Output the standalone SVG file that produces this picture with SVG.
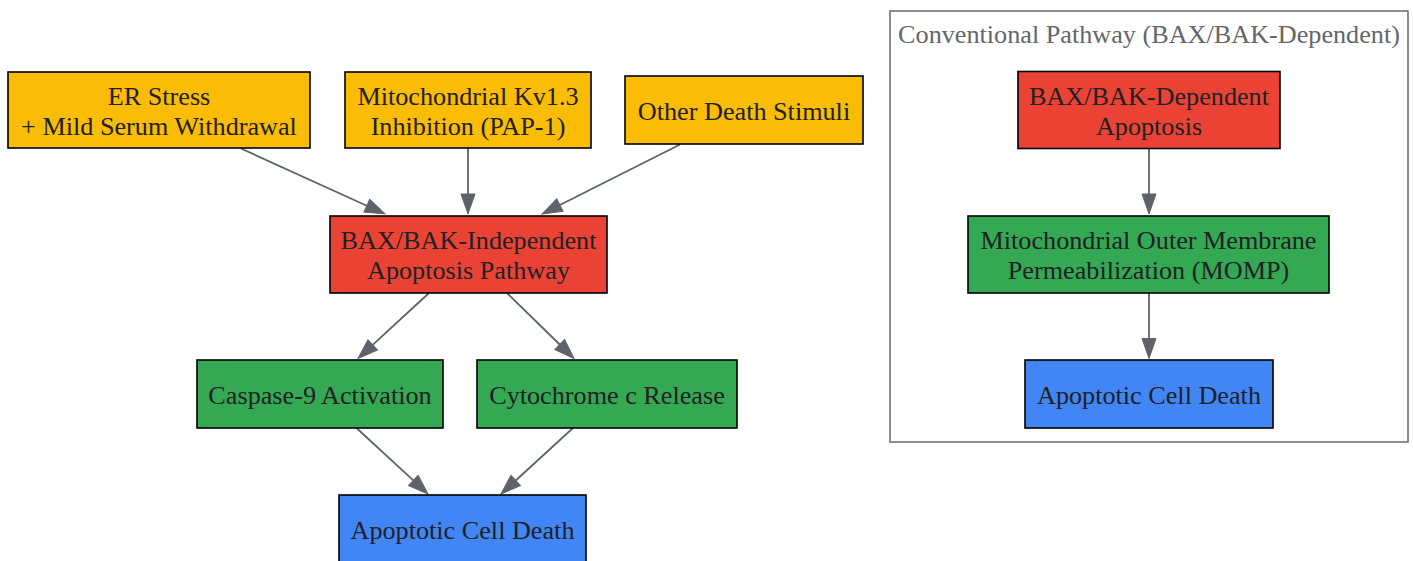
<svg xmlns="http://www.w3.org/2000/svg" width="1413" height="561" viewBox="0 0 1413 561">
<style>
.n{stroke:#000;stroke-width:1.6}
.y{fill:#FBBC05}.r{fill:#EA4335}.g{fill:#34A853}.b{fill:#4285F4}
text{font-family:"Liberation Serif","Times New Roman",serif;font-size:26.2px;fill:#202124;text-anchor:middle}
.cl{fill:#63666a}
.e{stroke:#5f6368;stroke-width:1.8;fill:none;marker-end:url(#ah)}
</style>
<defs>
<marker id="ah" markerUnits="userSpaceOnUse" markerWidth="20" markerHeight="14" refX="0" refY="7" orient="auto" overflow="visible">
<path d="M0,0 L20,7 L0,14 z" fill="#5f6368" stroke="#5f6368" stroke-width="1"/>
</marker>
</defs>
<rect width="1413" height="561" fill="#fff"/>
<g id="cluster_conventional">
<rect x="890" y="11" width="518" height="431" fill="none" stroke="#6e7175" stroke-width="1.6"/>
<text class="cl" x="1149" y="43">Conventional Pathway (BAX/BAK-Dependent)</text>
</g>
<g id="connectors">
<path class="e" d="M241,148.5 L366.8,205.7"/>
<path class="e" d="M468,148.5 L468,194"/>
<path class="e" d="M680,144.5 L559.9,205"/>
<path class="e" d="M429,293 L372.7,344.9"/>
<path class="e" d="M507,293 L559.7,344.5"/>
<path class="e" d="M356.5,428 L413.3,480.4"/>
<path class="e" d="M573,428 L515.7,480.5"/>
<path class="e" d="M1149,148.5 L1149,194"/>
<path class="e" d="M1149,293 L1149,338.5"/>
</g>
<g id="er_stress">
<rect class="n y" x="8" y="72" width="302" height="76"/>
<text x="159" y="104.5">ER Stress</text>
<text x="159" y="135">+ Mild Serum Withdrawal</text>
</g>
<g id="kv13">
<rect class="n y" x="345" y="72" width="246" height="76"/>
<text x="468" y="104.5">Mitochondrial Kv1.3</text>
<text x="468" y="135">Inhibition (PAP-1)</text>
</g>
<g id="other_stimuli">
<rect class="n y" x="625" y="76" width="238" height="68"/>
<text x="744" y="120">Other Death Stimuli</text>
</g>
<g id="bax_independent">
<rect class="n r" x="330" y="216" width="277" height="77"/>
<text x="468.5" y="248.5">BAX/BAK-Independent</text>
<text x="468.5" y="279">Apoptosis Pathway</text>
</g>
<g id="caspase9">
<rect class="n g" x="197" y="360" width="246" height="68"/>
<text x="320" y="404">Caspase-9 Activation</text>
</g>
<g id="cytochrome_c">
<rect class="n g" x="477" y="360" width="260" height="68"/>
<text x="607" y="404">Cytochrome c Release</text>
</g>
<g id="apoptotic_death_left">
<rect class="n b" x="339" y="495" width="247" height="68"/>
<text x="462.5" y="538.5">Apoptotic Cell Death</text>
</g>
<g id="bax_dependent">
<rect class="n r" x="1018" y="71.5" width="262" height="77"/>
<text x="1149" y="104.5">BAX/BAK-Dependent</text>
<text x="1149" y="135">Apoptosis</text>
</g>
<g id="momp">
<rect class="n g" x="968" y="216" width="361" height="77"/>
<text x="1148.5" y="248.5">Mitochondrial Outer Membrane</text>
<text x="1148.5" y="279">Permeabilization (MOMP)</text>
</g>
<g id="apoptotic_death_right">
<rect class="n b" x="1025" y="360" width="248" height="68"/>
<text x="1149" y="404">Apoptotic Cell Death</text>
</g>
</svg>
